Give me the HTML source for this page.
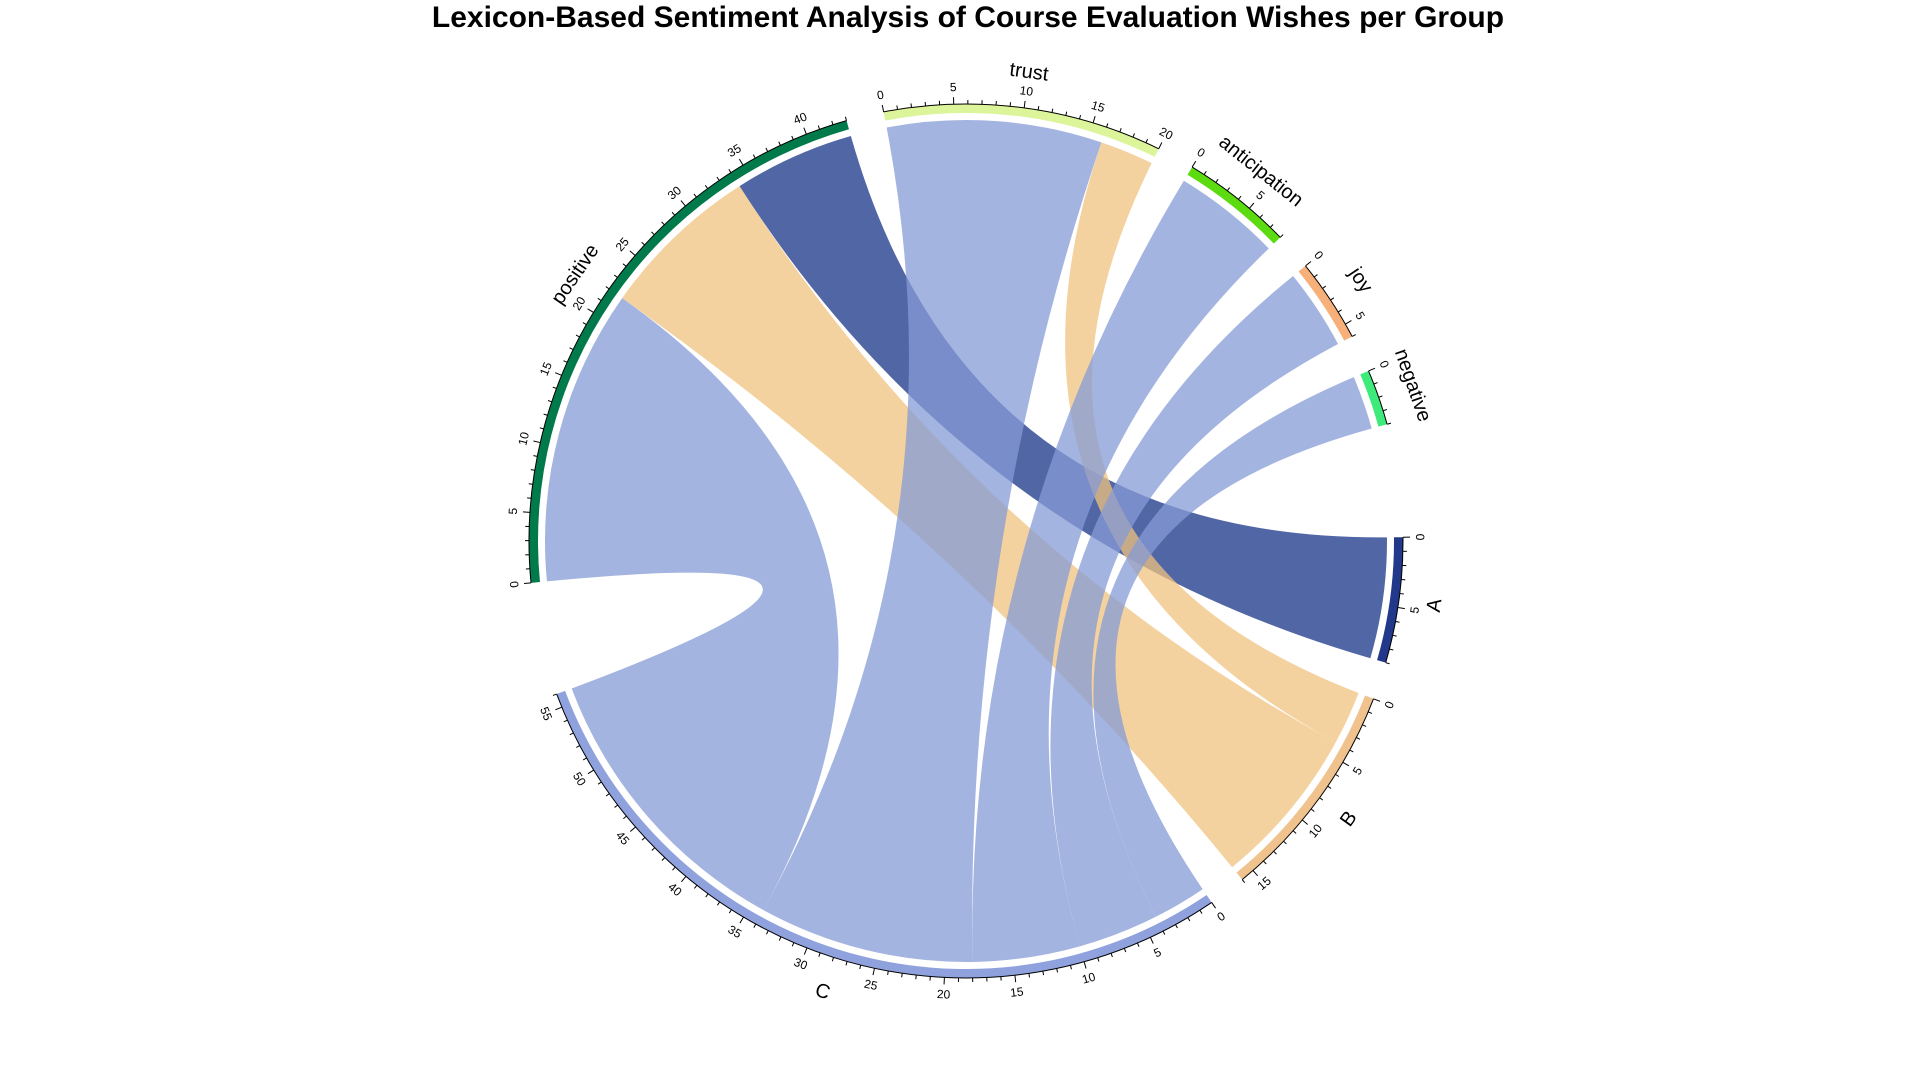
<!DOCTYPE html>
<html><head><meta charset="utf-8"><style>
html,body{margin:0;padding:0;background:#fff}
svg{display:block}
text{font-family:"Liberation Sans",Arial,sans-serif}
</style></head><body>
<svg id="chart" width="1920" height="1080" viewBox="0 0 1920 1080">
<text x="968" y="27" text-anchor="middle" font-size="30" font-weight="bold" fill="#000">Lexicon-Based Sentiment Analysis of Course Evaluation Wishes per Group</text>
<g id="links"></g>
<g id="tracks"></g>
</svg>
<script>
const sectors = ["positive","trust","anticipation","joy","negative","A","B","C"];
const sectorTotals = [43,20,8,6,4,9,16,56];
const trackColors = ["#007A4A","#DDF59A","#5BDB10","#F7B07A","#3EEA7A","#22388A","#F0C38E","#8FA2DD"];
const linkFrom = ["positive","positive","positive","trust","trust","anticipation","joy","negative"];
const linkTo   = ["C","B","A","C","B","C","C","C"];
const linkValues = [22,12,9,16,4,8,6,4];
const groupLinkColors = {A:"rgb(23,51,135)",B:"rgb(239,195,127)",C:"rgb(134,155,214)"};

const cx=966, cy=541, R=437, RT=428, RL=421;
const unit=300/162, smallGap=5, bigGap=15, startAngle=185.5;
const svg=document.getElementById('chart');
const NS="http://www.w3.org/2000/svg";
const starts={}; let a=startAngle;
sectors.forEach((s,i)=>{starts[s]=a; a-=sectorTotals[i]*unit; a-= (s==="negative"||s==="C")?bigGap:smallGap;});
function ang(s,v){return starts[s]-v*unit;}
function pt(th,r){const t=th*Math.PI/180;return [cx+r*Math.cos(t), cy-r*Math.sin(t)];}
function f(p){return p[0].toFixed(2)+" "+p[1].toFixed(2);}

const offs={}; sectors.forEach(s=>offs[s]=0);
const toOrderC=["negative","joy","anticipation","trust","positive"], toOrderB=["trust","positive"], toOrderA=["positive"];
function tgtOffset(to,from){
  const order= to==="C"?toOrderC:(to==="B"?toOrderB:toOrderA);
  let o=0; for(const fr of order){ if(fr===from) return o; const k=linkFrom.findIndex((x,j)=>x===fr&&linkTo[j]===to); o+=linkValues[k]; } return o;
}
const lg=document.getElementById('links');
linkValues.forEach((v,i)=>{
  const fr=linkFrom[i], to=linkTo[i];
  const a1=ang(fr,offs[fr]), a2=ang(fr,offs[fr]+v); offs[fr]+=v;
  const t0=tgtOffset(to,fr);
  const b1=ang(to,t0), b2=ang(to,t0+v);
  const d="M"+f(pt(a1,RL))+" A"+RL+" "+RL+" 0 0 1 "+f(pt(a2,RL))+
    " Q"+cx+" "+cy+" "+f(pt(b1,RL))+" A"+RL+" "+RL+" 0 0 1 "+f(pt(b2,RL))+
    " Q"+cx+" "+cy+" "+f(pt(a1,RL))+" Z";
  const p=document.createElementNS(NS,'path');
  p.setAttribute('d',d);
  p.setAttribute('fill',groupLinkColors[to]);
  p.setAttribute('fill-opacity','0.75');
  
  
  lg.appendChild(p);
});

const tg=document.getElementById('tracks');
function rot(th){let r=90-th; let n=((th%360)+360)%360; if(n>180&&n<360) r+=180; return r;}
sectors.forEach((s,i)=>{
  const tot=sectorTotals[i], a1=ang(s,0), a2=ang(s,tot);
  const d="M"+f(pt(a1,R))+" A"+R+" "+R+" 0 0 1 "+f(pt(a2,R))+" L"+f(pt(a2,RT))+" A"+RT+" "+RT+" 0 0 0 "+f(pt(a1,RT))+" Z";
  const p=document.createElementNS(NS,'path');
  p.setAttribute('d',d); p.setAttribute('fill',trackColors[i]);
  
  
  tg.appendChild(p);
  const ax=document.createElementNS(NS,'path');
  ax.setAttribute('d',"M"+f(pt(a1,R))+" A"+R+" "+R+" 0 0 1 "+f(pt(a2,R)));
  ax.setAttribute('fill','none'); ax.setAttribute('stroke','#000'); ax.setAttribute('stroke-width','1');
  
  
  tg.appendChild(ax);
  for(let v=0; v<=tot; v++){
    const th=ang(s,v), major=v%5===0;
    const l=document.createElementNS(NS,'path');
    l.setAttribute('d',"M"+f(pt(th,R))+" L"+f(pt(th,R+(major?7:4))));
    l.setAttribute('stroke','#000'); l.setAttribute('stroke-width','1');
    
    
    tg.appendChild(l);
    if(major){
      const q=pt(th,R+17);
      const t=document.createElementNS(NS,'text');
      t.setAttribute('x',q[0].toFixed(1)); t.setAttribute('y',q[1].toFixed(1));
      t.setAttribute('font-size','12'); t.setAttribute('text-anchor','middle'); t.setAttribute('dominant-baseline','central');
      t.setAttribute('transform','rotate('+rot(th).toFixed(1)+' '+q[0].toFixed(1)+' '+q[1].toFixed(1)+')');
      t.textContent=v;
      
      
      tg.appendChild(t);
    }
  }
  const mid=ang(s,tot/2), q=pt(mid,R+36);
  const t=document.createElementNS(NS,'text');
  t.setAttribute('x',q[0].toFixed(1)); t.setAttribute('y',q[1].toFixed(1));
  t.setAttribute('font-size','20'); t.setAttribute('text-anchor','middle'); t.setAttribute('dominant-baseline','central');
  t.setAttribute('transform','rotate('+rot(mid).toFixed(1)+' '+q[0].toFixed(1)+' '+q[1].toFixed(1)+')');
  t.textContent=s;
  
  
  tg.appendChild(t);
});
</script>
</body></html>
